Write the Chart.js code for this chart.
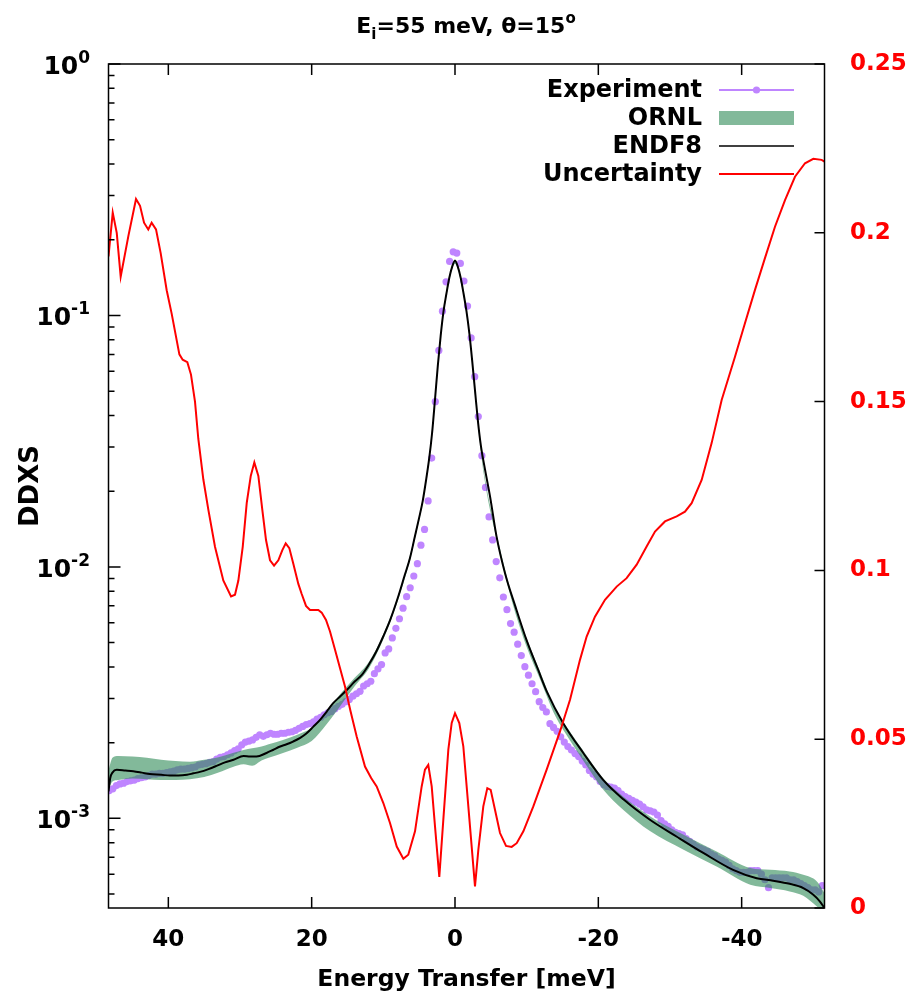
<!DOCTYPE html>
<html>
<head>
<meta charset="utf-8">
<title>DDXS Ei=55 meV</title>
<script src="https://cdn.jsdelivr.net/npm/chart.js@4.4.1/dist/chart.umd.min.js"></script>
<style>
  html, body { margin: 0; padding: 0; background: #ffffff; }
  #wrap { width: 910px; height: 999px; }
</style>
</head>
<body>
<div id="wrap"><canvas id="myChart" width="910" height="999"></canvas></div>
<script>
// experiment (purple dots)
const expE = [
  48.25, 47.75, 47.25, 46.75, 46.25, 45.75, 45.25, 44.75, 44.25, 43.75,
  43.25, 42.75, 42.25, 41.75, 41.25, 40.75, 40.25, 39.75, 39.25, 38.75,
  38.25, 37.75, 37.25, 36.75, 36.25, 35.75, 35.25, 34.75, 34.25, 33.75,
  33.25, 32.75, 32.25, 31.75, 31.25, 30.75, 30.25, 29.75, 29.25, 28.75,
  28.25, 27.75, 27.25, 26.75, 26.25, 25.75, 25.25, 24.75, 24.25, 23.75,
  23.25, 22.75, 22.25, 21.75, 21.25, 20.75, 20.25, 19.75, 19.25, 18.75,
  18.25, 17.75, 17.25, 16.75, 16.25, 15.75, 15.25, 14.75, 14.25, 13.75,
  13.25, 12.75, 12.25, 11.75, 11.25, 10.75, 10.25, 9.75, 9.25, 8.75,
  8.25, 7.75, 7.25, 6.75, 6.25, 5.75, 5.25, 4.75, 4.25, 3.75,
  3.25, 2.75, 2.25, 1.75, 1.25, 0.75, 0.25,
  -0.25, -0.75, -1.25, -1.75, -2.25, -2.75, -3.25, -3.75, -4.25, -4.75,
  -5.25, -5.75, -6.25, -6.75, -7.25, -7.75, -8.25, -8.75, -9.25, -9.75,
  -10.25, -10.75, -11.25, -11.75, -12.25, -12.75, -13.25, -13.75, -14.25, -14.75,
  -15.25, -15.75, -16.25, -16.75, -17.25, -17.75, -18.25, -18.75, -19.25, -19.75,
  -20.25, -20.75, -21.25, -21.75, -22.25, -22.75, -23.25, -23.75, -24.25, -24.75,
  -25.25, -25.75, -26.25, -26.75, -27.25, -27.75, -28.25, -28.75, -29.25, -29.75,
  -30.25, -30.75, -31.25, -31.75, -32.25, -32.75, -33.25, -33.75, -34.25, -34.75,
  -35.25, -35.75, -36.25, -36.75, -37.25, -37.75, -38.25, -38.75, -39.25, -39.75,
  -40.25, -40.75, -41.25, -41.75, -42.25, -42.75, -43.25, -43.75, -44.25, -44.75,
  -45.25, -45.75, -46.25, -46.75, -47.25, -47.75, -48.25, -48.75, -49.25, -49.75,
  -50.25, -50.75, -51.25
];
const expDDXS = [
  0.00129, 0.00131, 0.00135, 0.00137, 0.00138, 0.00140, 0.00141, 0.00142, 0.00144, 0.00145,
  0.00146, 0.00148, 0.00150, 0.00150, 0.00151, 0.00151, 0.00152, 0.00153, 0.00154, 0.00156,
  0.00157, 0.00157, 0.00158, 0.00159, 0.00160, 0.00163, 0.00164, 0.00165, 0.00167, 0.00168,
  0.00172, 0.00175, 0.00176, 0.00179, 0.00182, 0.00186, 0.00189, 0.00196, 0.00201, 0.00203,
  0.00205, 0.00210, 0.00215, 0.00212, 0.00215, 0.00218, 0.00216, 0.00216, 0.00218, 0.00218,
  0.00220, 0.00221, 0.00224, 0.00228, 0.00232, 0.00236, 0.00238, 0.00242, 0.00248, 0.00252,
  0.00258, 0.00263, 0.00266, 0.00273, 0.00279, 0.00284, 0.00291, 0.00297, 0.00306, 0.00313,
  0.00320, 0.00336, 0.00343, 0.00351, 0.00376, 0.00393, 0.00409, 0.00455, 0.00472, 0.00522,
  0.00570, 0.00622, 0.00685, 0.00761, 0.00826, 0.00920, 0.0103, 0.0122, 0.0141, 0.0183,
  0.0271, 0.0454, 0.0726, 0.104, 0.136, 0.164, 0.179,
  0.177, 0.161, 0.137, 0.109, 0.0814, 0.0571, 0.0396, 0.0277, 0.0207, 0.0158,
  0.0128, 0.0105, 0.00905, 0.00759, 0.00676, 0.00595, 0.00550, 0.00493, 0.00444, 0.00401,
  0.00371, 0.00343, 0.00319, 0.00291, 0.00276, 0.00265, 0.00238, 0.00230, 0.00222, 0.00211,
  0.00201, 0.00193, 0.00187, 0.00181, 0.00176, 0.00169, 0.00163, 0.00155, 0.00150, 0.00146,
  0.00140, 0.00136, 0.00134, 0.00133, 0.00132, 0.00129, 0.00125, 0.00122, 0.00120, 0.00118,
  0.00116, 0.00114, 0.00111, 0.00108, 0.00107, 0.00106, 0.00103, 0.00098, 0.00095, 0.00093,
  0.00090, 0.00088, 0.00087, 0.00086, 0.00083, 0.00081, 0.00079, 0.00077, 0.00076, 0.00075,
  0.00074, 0.00072, 0.00071, 0.00069, 0.00068, 0.00067, 0.00065, 0.00063, 0.00062, 0.00061,
  0.00061, 0.00061, 0.00062, 0.00062, 0.00062, 0.00060, 0.00057, 0.00053, 0.00058, 0.00058,
  0.00058, 0.00058, 0.00058, 0.00057, 0.00057, 0.00056, 0.00055, 0.00054, 0.00053, 0.00052,
  0.00052, 0.00051, 0.00054
];

// ORNL band (lower / upper edge)
const ornlE = [48.35, 47.8, 47.0, 45.0, 43.0, 41.0, 39.0, 37.0, 35.0, 33.0,
  31.0, 29.5, 28.3, 27.0, 26.0, 24.0, 22.0, 20.0, 18.0, 16.0,
  14.0, 12.0, 10.0, 8.0, 6.0, 4.0, 3.0, 2.0, 1.0, 0.0,
  -1.0, -2.0, -3.0, -4.0, -6.0, -8.0, -10.0, -12.0, -14.0, -16.0,
  -18.0, -20.7, -23.5, -27.2, -31.9, -36.5, -41.2, -44.0, -46.7, -48.6,
  -50.5, -51.56];
const ornlLo = [0.00130, 0.00140, 0.00142, 0.00144, 0.00143, 0.00142, 0.00142, 0.00143, 0.00146, 0.00152,
  0.00160, 0.00164, 0.00162, 0.00170, 0.00174, 0.00182, 0.00191, 0.00203, 0.00235, 0.00280,
  0.00335, 0.00395, 0.00515, 0.0073, 0.0115, 0.0220, 0.0385, 0.0810, 0.128, 0.160,
  0.128, 0.083, 0.042, 0.0235, 0.0122, 0.0072, 0.0048, 0.0035, 0.00255, 0.00205,
  0.00168, 0.00130, 0.00108, 0.00089, 0.00075, 0.000643, 0.000544, 0.000528, 0.000512, 0.000492,
  0.000446, 0.000420];
const ornlHi = [0.00155, 0.00174, 0.00177, 0.00176, 0.00174, 0.00171, 0.00169, 0.00168, 0.00171, 0.00175,
  0.00182, 0.00187, 0.00190, 0.00193, 0.00197, 0.00205, 0.00215, 0.00229, 0.00265, 0.00312,
  0.00362, 0.00420, 0.00540, 0.0076, 0.0120, 0.0228, 0.0400, 0.0840, 0.133, 0.167,
  0.133, 0.086, 0.0435, 0.0245, 0.0128, 0.0076, 0.0052, 0.00375, 0.00272, 0.00222,
  0.00184, 0.00144, 0.00122, 0.00102, 0.00086, 0.000738, 0.000634, 0.000624, 0.000614, 0.000596,
  0.000561, 0.000504];

// ENDF8 (black line)
const endfE = [48.35, 48.1, 47.8, 47.2, 46.0, 44.9, 43.7, 42.6, 41.0, 39.8,
  38.6, 37.4, 36.5, 35.6, 34.4, 33.2, 32.1, 30.9, 29.5, 28.6,
  27.7, 26.3, 25.4, 24.4, 23.5, 22.6, 21.6, 20.7, 19.8, 18.8,
  17.9, 17.0, 16.0, 15.0, 14.0, 13.0, 12.0, 11.0, 10.0, 9.0,
  8.0, 7.0, 6.3, 5.6, 5.0, 4.5, 4.0, 3.6, 3.2, 2.8,
  2.4, 2.0, 1.6, 1.2, 0.8, 0.4, 0.0, -0.4, -0.8, -1.2,
  -1.6, -2.0, -2.4, -2.8, -3.2, -3.6, -4.2, -4.9, -5.8, -7.0,
  -8.4, -10.0, -11.6, -12.8, -15.1, -17.9, -20.7, -23.5, -27.2, -30.9,
  -34.7, -38.8, -42.1, -44.4, -46.7, -48.6, -50.0, -50.9, -51.56];
const endfDDXS = [0.00128, 0.00145, 0.00152, 0.00156, 0.00155, 0.00154, 0.00152, 0.00150, 0.00149, 0.00148,
  0.00148, 0.00149, 0.00151, 0.00153, 0.00157, 0.00162, 0.00167, 0.00171, 0.00177, 0.00176,
  0.00176, 0.00182, 0.00187, 0.00193, 0.00197, 0.00202, 0.00209, 0.00218, 0.00231, 0.00247,
  0.00266, 0.00287, 0.00306, 0.00326, 0.00350, 0.00372, 0.00410, 0.00460, 0.00530, 0.00620,
  0.00750, 0.00930, 0.0108, 0.0132, 0.0157, 0.0183, 0.0225, 0.0270, 0.0340, 0.0460,
  0.0630, 0.0830, 0.104, 0.122, 0.141, 0.156, 0.165, 0.156, 0.141, 0.122,
  0.104, 0.085, 0.066, 0.050, 0.038, 0.0305, 0.0243, 0.0190, 0.0132, 0.0094,
  0.0070, 0.0051, 0.0039, 0.0032, 0.00239, 0.00182, 0.00142, 0.00119, 0.000987, 0.000847,
  0.000727, 0.000624, 0.000578, 0.000565, 0.000549, 0.000528, 0.000497, 0.000468, 0.000440];

// Uncertainty (red, right axis)
const uncE = [48.35, 47.76, 47.2, 46.65, 45.58, 44.51, 43.95, 43.39, 42.8, 42.33,
  41.72, 41.07, 40.23, 39.53, 38.46, 38.0, 37.35, 36.84, 36.28, 35.82,
  35.12, 34.42, 33.49, 32.33, 31.25, 30.7, 30.23, 29.62, 29.06, 28.5,
  28.0, 27.44, 26.89, 26.37, 25.81, 25.25, 24.65, 24.09, 23.62, 23.12,
  22.56, 21.86, 21.39, 20.79, 20.23, 19.07, 18.6, 18.0, 17.44, 16.74,
  16.05, 15.35, 14.6, 13.72, 12.56, 11.7, 10.93, 10.0, 9.07, 8.13,
  7.21, 6.52, 5.58, 4.65, 4.19, 3.73, 3.25, 2.79, 2.19, 1.63,
  0.93, 0.46, 0.0, -0.6, -1.16, -1.86, -2.79, -3.26, -3.95, -4.51,
  -4.98, -5.58, -6.28, -7.12, -7.91, -8.61, -9.54, -10.93, -12.79, -14.65,
  -16.05, -17.44, -18.37, -19.53, -20.93, -22.56, -23.95, -25.35, -26.74, -27.91,
  -29.3, -30.93, -32.09, -33.02, -34.42, -35.81, -37.21, -39.07, -40.46, -41.86,
  -43.25, -44.65, -46.05, -47.44, -48.84, -50.0, -51.16, -51.56];
const uncVal = [0.193, 0.206, 0.200, 0.187, 0.199, 0.210, 0.208, 0.203, 0.201, 0.203,
  0.201, 0.194, 0.183, 0.176, 0.164, 0.1624, 0.1617, 0.158, 0.150, 0.139,
  0.127, 0.118, 0.107, 0.097, 0.0923, 0.0928, 0.097, 0.107, 0.120, 0.128,
  0.132, 0.128, 0.118, 0.109, 0.103, 0.1014, 0.103, 0.106, 0.108, 0.1066,
  0.102, 0.096, 0.093, 0.0895, 0.0883, 0.0883, 0.0875, 0.0853, 0.0819, 0.0765,
  0.0711, 0.0656, 0.0585, 0.0508, 0.0419, 0.0385, 0.0360, 0.0311, 0.0252, 0.0182,
  0.0146, 0.0158, 0.0227, 0.0360, 0.0410, 0.0424, 0.0360, 0.0242, 0.0092, 0.0261,
  0.0469, 0.0548, 0.0577, 0.0548, 0.0479, 0.0301, 0.0064, 0.0173, 0.0301, 0.0355,
  0.0350, 0.0291, 0.0222, 0.0184, 0.0181, 0.0192, 0.0227, 0.0301, 0.0410, 0.0523,
  0.0617, 0.0735, 0.0804, 0.0863, 0.0913, 0.0952, 0.0977, 0.1017, 0.1071, 0.1115,
  0.1145, 0.1160, 0.1174, 0.1199, 0.1268, 0.1377, 0.1505, 0.1633, 0.1732, 0.1831,
  0.1925, 0.2018, 0.2097, 0.2166, 0.2206, 0.2219, 0.2216, 0.2211];

const xTicks = [40, 20, 0, -20, -40];
const yDecades = [0, -1, -2, -3];
const y2Ticks = [0, 0.05, 0.1, 0.15, 0.2, 0.25];
const y2Labels = ['0', '0.05', '0.1', '0.15', '0.2', '0.25'];

const legendNames = ['Experiment', 'ORNL', 'ENDF8', 'Uncertainty'];

const FONT = '"DejaVu Sans", sans-serif';
const expColor = '#bf85ff';
const bandColor = 'rgba(46,139,87,0.6)';

function pairs(xs, ys) {
  return xs.map((x, i) => ({ x: x, y: ys[i] }));
}

function richText(ctx, parts, x, y, align) {
  var total = 0;
  parts.forEach(p => {
    ctx.font = 'bold ' + p.size + 'px ' + FONT;
    p.w = ctx.measureText(p.t).width;
    total += p.w;
  });
  var cx = align === 'right' ? x - total : (align === 'center' ? x - total / 2 : x);
  ctx.textAlign = 'left';
  ctx.textBaseline = 'alphabetic';
  parts.forEach(p => {
    ctx.font = 'bold ' + p.size + 'px ' + FONT;
    ctx.fillText(p.t, cx, y + (p.dy || 0));
    cx += p.w;
  });
}

const gnuplotFrame = {
  id: 'gnuplotFrame',
  afterDatasetsDraw(chart) {
    const ctx = chart.ctx;
    const a = chart.chartArea;
    const sx = chart.scales.x, sy = chart.scales.y, sy2 = chart.scales.y2;
    ctx.save();
    ctx.strokeStyle = '#000';
    ctx.lineWidth = 1.5;
    ctx.strokeRect(a.left, a.top, a.right - a.left, a.bottom - a.top);

    ctx.beginPath();
    xTicks.forEach(v => {
      const px = sx.getPixelForValue(v);
      ctx.moveTo(px, a.bottom); ctx.lineTo(px, a.bottom - 11);
      ctx.moveTo(px, a.top); ctx.lineTo(px, a.top + 11);
    });
    for (let d = -4; d <= 0; d++) {
      for (let m = 1; m <= 9; m++) {
        const v = m * Math.pow(10, d);
        if (v < sy.min || v > sy.max) continue;
        const py = sy.getPixelForValue(v);
        ctx.moveTo(a.left, py); ctx.lineTo(a.left + (m === 1 ? 12 : 6), py);
      }
    }
    y2Ticks.forEach(v => {
      const py = sy2.getPixelForValue(v);
      ctx.moveTo(a.right, py); ctx.lineTo(a.right - 10, py);
    });
    ctx.stroke();

    // log axis labels 10^n
    ctx.fillStyle = '#000';
    yDecades.forEach(d => {
      const py = sy.getPixelForValue(Math.pow(10, d));
      richText(ctx, [{ t: '10', size: 25 }, { t: String(d), size: 17, dy: -11 }], 90, py + 10, 'right');
    });

    // legend
    const rows = [90, 118, 146, 174];
    ctx.fillStyle = '#000';
    ctx.textAlign = 'right';
    ctx.textBaseline = 'middle';
    ctx.font = 'bold 24px ' + FONT;
    legendNames.forEach((n, i) => ctx.fillText(n, 702, rows[i] + 1));
    ctx.lineWidth = 2;
    ctx.strokeStyle = expColor;
    ctx.beginPath(); ctx.moveTo(719, rows[0]); ctx.lineTo(794, rows[0]); ctx.stroke();
    ctx.fillStyle = expColor;
    ctx.beginPath(); ctx.arc(756.5, rows[0], 3.6, 0, Math.PI * 2); ctx.fill();
    ctx.fillStyle = bandColor;
    ctx.fillRect(719, rows[1] - 7, 75, 14);
    ctx.lineWidth = 1.5;
    ctx.strokeStyle = '#000';
    ctx.beginPath(); ctx.moveTo(719, rows[2]); ctx.lineTo(794, rows[2]); ctx.stroke();
    ctx.lineWidth = 2;
    ctx.strokeStyle = '#ff0000';
    ctx.beginPath(); ctx.moveTo(719, rows[3]); ctx.lineTo(794, rows[3]); ctx.stroke();

    // titles
    ctx.fillStyle = '#000';
    richText(ctx, [
      { t: 'E', size: 22 }, { t: 'i', size: 15, dy: 6 },
      { t: '=55 meV, \u03b8=15', size: 22 }, { t: 'o', size: 15, dy: -10 }
    ], 466, 33, 'center');
    ctx.textAlign = 'center';
    ctx.textBaseline = 'middle';
    ctx.font = 'bold 23.5px ' + FONT;
    ctx.fillText('Energy Transfer [meV]', (a.left + a.right) / 2, 980);
    ctx.save();
    ctx.translate(31, (a.top + a.bottom) / 2);
    ctx.rotate(-Math.PI / 2);
    ctx.font = 'bold 26px ' + FONT;
    ctx.fillText('DDXS', 0, 0);
    ctx.restore();
    ctx.restore();
  }
};

const data = {
  datasets: [
    {
      label: 'Experiment',
      data: pairs(expE, expDDXS),
      yAxisID: 'y',
      showLine: false,
      pointRadius: 3.6,
      pointBorderWidth: 0,
      pointBackgroundColor: expColor,
      order: 6
    },
    {
      label: 'ORNL low',
      data: pairs(ornlE, ornlLo),
      yAxisID: 'y',
      showLine: true,
      borderWidth: 0,
      borderColor: 'rgba(0,0,0,0)',
      pointRadius: 0,
      fill: false,
      cubicInterpolationMode: 'monotone',
      order: 5
    },
    {
      label: 'ORNL',
      data: pairs(ornlE, ornlHi),
      yAxisID: 'y',
      showLine: true,
      borderWidth: 0,
      borderColor: 'rgba(0,0,0,0)',
      backgroundColor: bandColor,
      pointRadius: 0,
      fill: '-1',
      cubicInterpolationMode: 'monotone',
      order: 4
    },
    {
      label: 'ENDF8',
      data: pairs(endfE, endfDDXS),
      yAxisID: 'y',
      showLine: true,
      borderColor: '#000000',
      borderWidth: 2,
      pointRadius: 0,
      cubicInterpolationMode: 'monotone',
      order: 2
    },
    {
      label: 'Uncertainty',
      data: pairs(uncE, uncVal),
      yAxisID: 'y2',
      showLine: true,
      borderColor: '#ff0000',
      borderWidth: 2,
      pointRadius: 0,
      tension: 0,
      order: 1
    }
  ]
};

const config = {
  type: 'scatter',
  data: data,
  options: {
    responsive: false,
    animation: false,
    layout: { padding: { top: 64, left: 0, right: 0, bottom: 0 } },
    plugins: {
      legend: { display: false },
      title: { display: false },
      tooltip: { enabled: false }
    },
    scales: {
      x: {
        type: 'linear',
        position: 'bottom',
        reverse: true,
        min: -51.56,
        max: 48.35,
        afterBuildTicks: s => { s.ticks = xTicks.map(v => ({ value: v })); },
        afterFit: s => { s.height = 91; },
        grid: { display: false, drawTicks: false },
        border: { display: false },
        ticks: {
          color: '#000',
          font: { family: FONT, size: 23, weight: 'bold' },
          padding: 18,
          maxRotation: 0,
          autoSkip: false,
          callback: v => String(v)
        }
      },
      y: {
        type: 'logarithmic',
        position: 'left',
        min: 4.4e-4,
        max: 1,
        afterFit: s => { s.width = 108.5; },
        grid: { display: false, drawTicks: false },
        border: { display: false },
        ticks: { display: false }
      },
      y2: {
        type: 'linear',
        position: 'right',
        min: 0,
        max: 0.25,
        afterBuildTicks: s => { s.ticks = y2Ticks.map(v => ({ value: v })); },
        afterFit: s => { s.width = 85.5; },
        grid: { display: false, drawTicks: false },
        border: { display: false },
        ticks: {
          color: '#ff0000',
          font: { family: FONT, size: 23, weight: 'bold' },
          padding: 25.5,
          autoSkip: false,
          callback: (v, i) => y2Labels[i]
        }
      }
    }
  },
  plugins: [gnuplotFrame]
};

var myChart = new Chart(document.getElementById('myChart'), config);
</script>
</body>
</html>
